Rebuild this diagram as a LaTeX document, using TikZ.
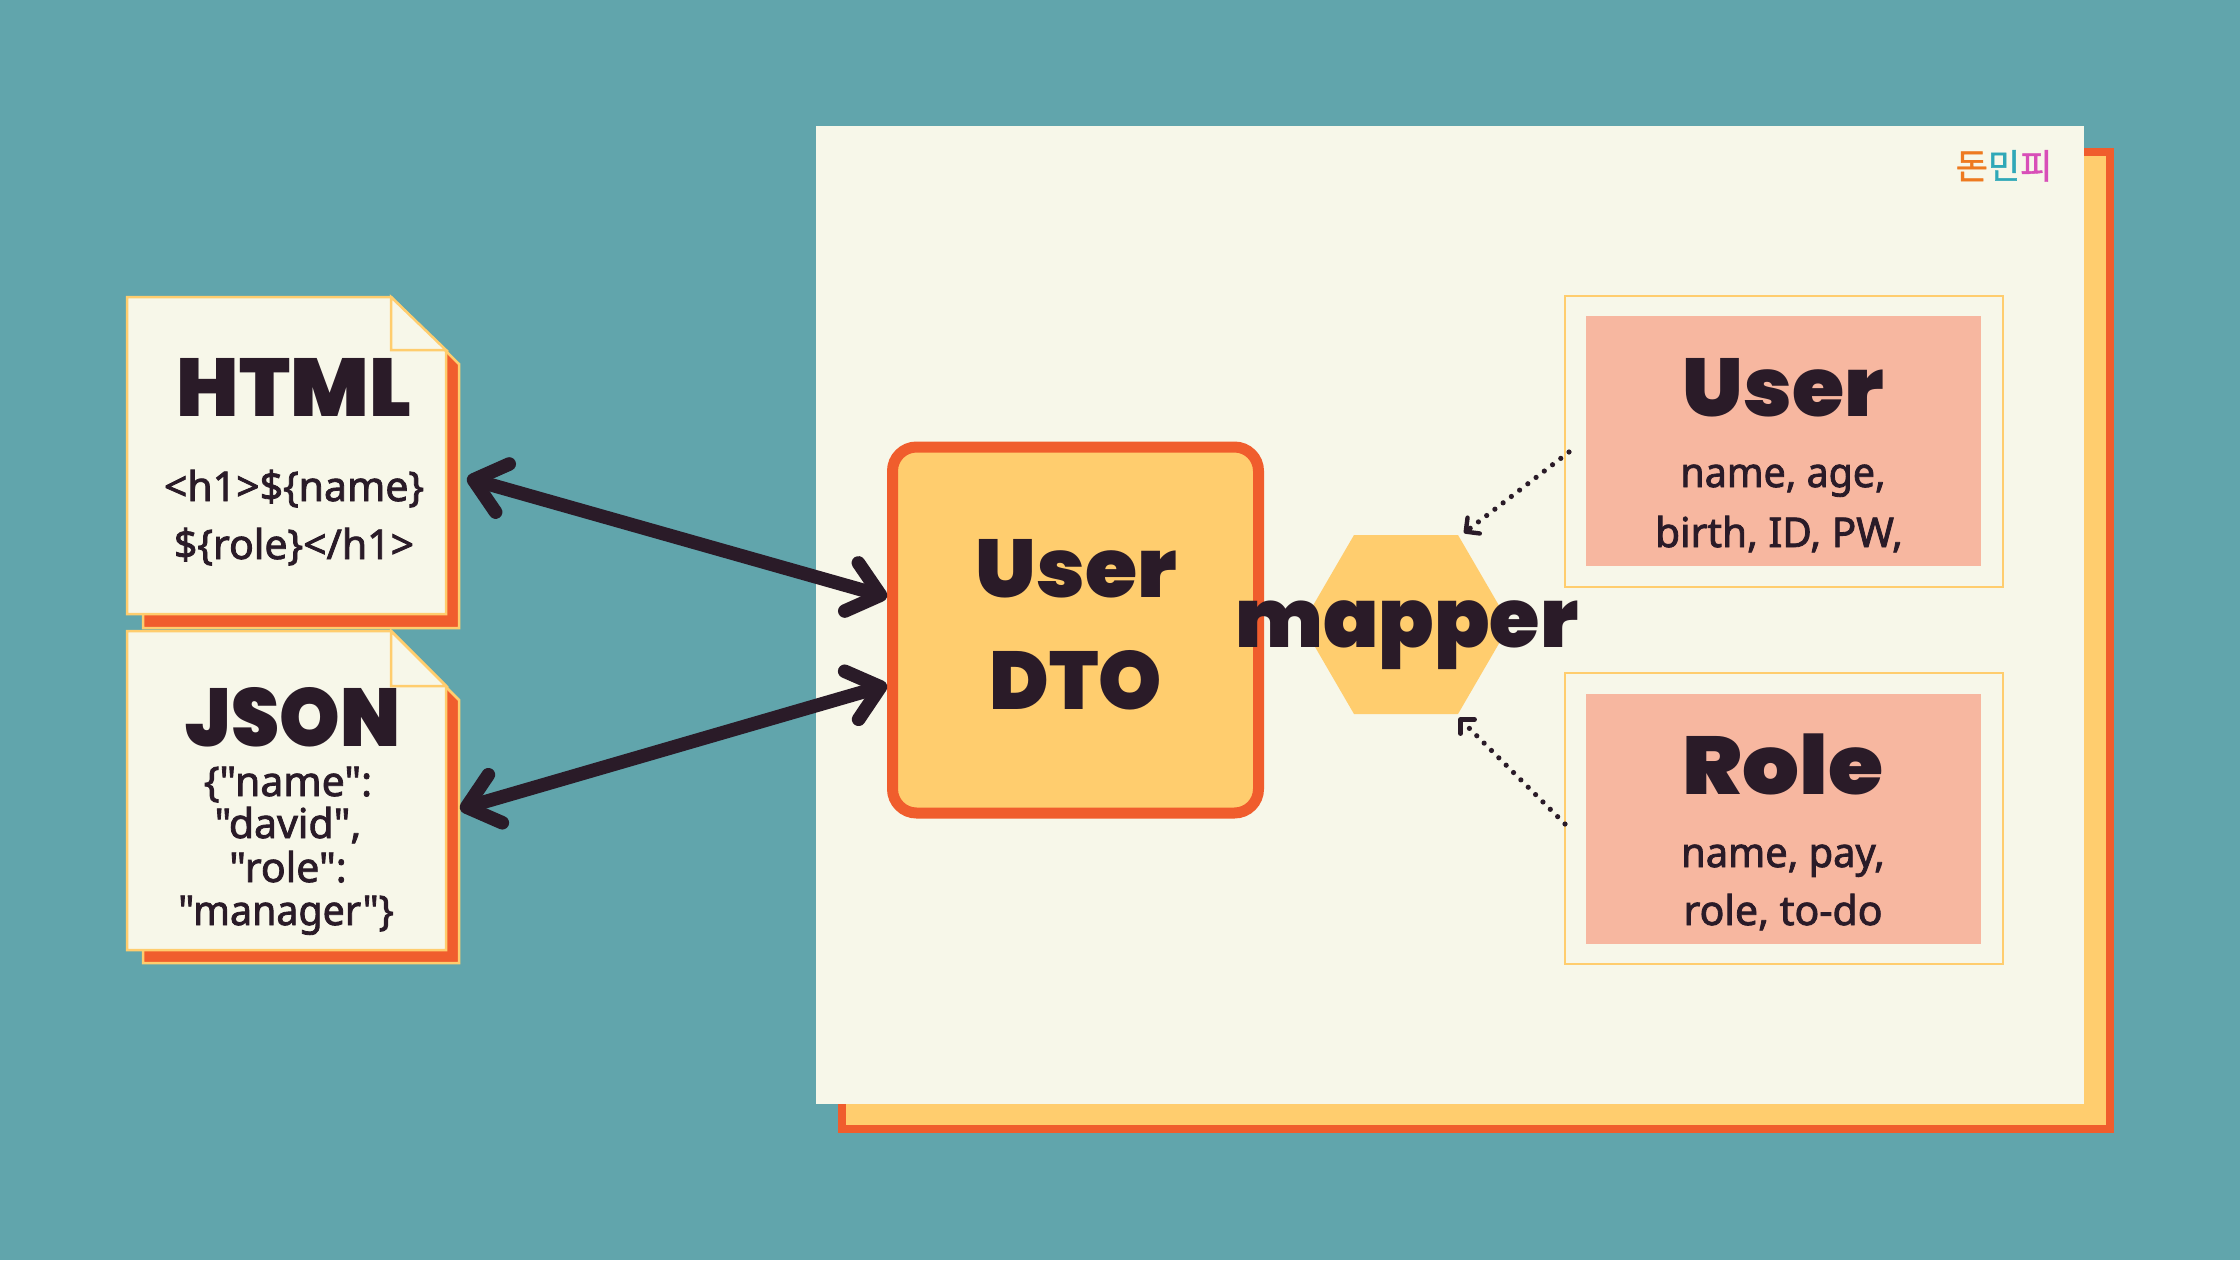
\documentclass[tikz,border=0pt]{standalone}
\usepackage{fontspec}
\usetikzlibrary{arrows.meta}
\newfontfamily\headf{Poppins}[UprightFont=* Black]
\newfontfamily\bodyf{Noto Sans}[FakeBold=2]
\newfontfamily\cjkf{Noto Sans CJK KR}[FakeBold=1.2]
\definecolor{bgteal}{HTML}{61A5AC}
\definecolor{cream}{HTML}{F7F7E9}
\definecolor{yel}{HTML}{FFCD6E}
\definecolor{org}{HTML}{F05D2D}
\definecolor{salmon}{HTML}{F7B7A0}
\definecolor{ink}{HTML}{2A1B28}
\newcommand{\hx}[2]{\scalebox{#1}[1]{#2}}
\tikzset{
 txt/.style={anchor=base,inner sep=0pt,text=ink,align=center},
 headtxt/.style={txt,font=\headf\fontsize{41}{41}\selectfont},
 bodytxt/.style={txt,font=\bodyf\fontsize{20.5}{29}\selectfont},
 shadowpage/.style={fill=org,draw=yel,line width=1.25pt,line join=miter},
 pagesheet/.style={fill=cream,draw=yel,line width=1.25pt,line join=miter},
 outerbox/.style={draw=yel,line width=1pt,fill=none,inner sep=0pt,minimum width=219pt,minimum height=145.5pt},
 innerbox/.style={fill=salmon,inner sep=0pt,minimum width=197.5pt,minimum height=125pt},
 bigarrow/.style={draw=ink,line width=6.8pt,line cap=round,{Straight Barb[round,length=15pt,width=25pt]}-{Straight Barb[round,length=15pt,width=25pt]}},
 dotarrow/.style={draw=ink,line width=2.6pt,line cap=round,dash pattern=on 0pt off 5.2pt,-{Straight Barb[round,length=5pt,width=10pt,line width=2.2pt]}},
}
\begin{document}
\begin{tikzpicture}[x=0.5pt,y=-0.5pt]
\useasboundingbox (0,0) rectangle (2240,1260);
\fill[bgteal] (0,0) rectangle (2240,1260);
% main panel
\draw[org,fill=yel,line width=4pt] (842,152) rectangle (2110,1129);
\fill[cream] (816,126) rectangle (2084,1104);
% html page
\draw[shadowpage] (143,320) -- (409,315) -- (459,364) -- (459,628) -- (143,628) -- cycle;
\draw[pagesheet] (127,297) -- (391,297) -- (446,351) -- (446,614) -- (127,614) -- cycle;
\draw[pagesheet] (391,297) -- (391,350) -- (446,350) -- cycle;
% json page
\draw[shadowpage] (143,650) -- (409,650) -- (459,700) -- (459,963) -- (143,963) -- cycle;
\draw[pagesheet] (127,631) -- (391,631) -- (446,686) -- (446,950) -- (127,950) -- cycle;
\draw[pagesheet] (391,631) -- (391,686) -- (446,686) -- cycle;
% dto
\node[draw=org,fill=yel,line width=5.5pt,rounded corners=12pt,inner sep=0pt,minimum width=183pt,minimum height=183pt] (dto) at (1075.5,630) {};
% hexagon
\fill[yel] (1354,535) -- (1458,535) -- (1510,624.5) -- (1458,714) -- (1354,714) -- (1302,624.5) -- cycle;
\coordinate (hexa) at (1464,533);
\coordinate (hexb) at (1459,718);
% right boxes
\node[outerbox] (uo) at (1783.5,441.5) {};
\node[innerbox] (ui) at (1783.5,441) {};
\node[outerbox] (ro) at (1783.5,818.5) {};
\node[innerbox] (ri) at (1783.5,818.5) {};
\coordinate (ustart) at (1569,452);
\coordinate (rstart) at (1565,824);
\draw[dotarrow] (ustart) -- (hexa);
\draw[dotarrow] (rstart) -- (hexb);
% thick arrows
\coordinate (h1) at (467,478);
\coordinate (d1) at (887,597);
\coordinate (j1) at (460,809);
\coordinate (d2) at (887,685);
\draw[bigarrow] (h1) -- (d1);
\draw[bigarrow] (j1) -- (d2);
% text
\node[headtxt] (thtml) at (294,416) {\hx{1.01}{HTML}};
\node[bodytxt] (th1) at (294,559) {<h1>\$\{name\}\\\$\{role\}</h1>};
\node[headtxt] (tjson) at (293,746) {\hx{.94}{JSON}};
\node[bodytxt] (tj1) at (288,796) {\{"name":};
\node[bodytxt] (tj2) at (288,838) {"david",};
\node[bodytxt] (tj3) at (288,882) {"role":};
\node[bodytxt] (tj4) at (286,925) {\hx{.96}{"manager"\}}};
\node[headtxt] (tdto1) at (1076,597) {\hx{1.03}{User}};
\node[headtxt] (tdto2) at (1076,709) {\hx{.98}{DTO}};
\node[headtxt] (tmap) at (1407,647) {\hx{.995}{mapper}};
\node[headtxt] (tuser) at (1783,416) {\hx{1.03}{User}};
\node[bodytxt] (tu1) at (1783,487) {\hx{.96}{name, age,}};
\node[bodytxt] (tu2) at (1779,547) {\hx{.99}{birth, ID, PW,}};
\node[headtxt] (trole) at (1783,794) {\hx{1.09}{Role}};
\node[bodytxt] (tr1) at (1783,867) {\hx{.97}{name, pay,}};
\node[bodytxt] (tr2) at (1783,925) {role, to-do};
\node[anchor=base,inner sep=0pt,font=\cjkf\fontsize{17.5}{17.5}\selectfont] (logo) at (2004,179) {\textcolor[HTML]{EE7A20}{돈}\textcolor[HTML]{2FA8B8}{민}\textcolor[HTML]{D84FB8}{피}};
\end{tikzpicture}
\end{document}
